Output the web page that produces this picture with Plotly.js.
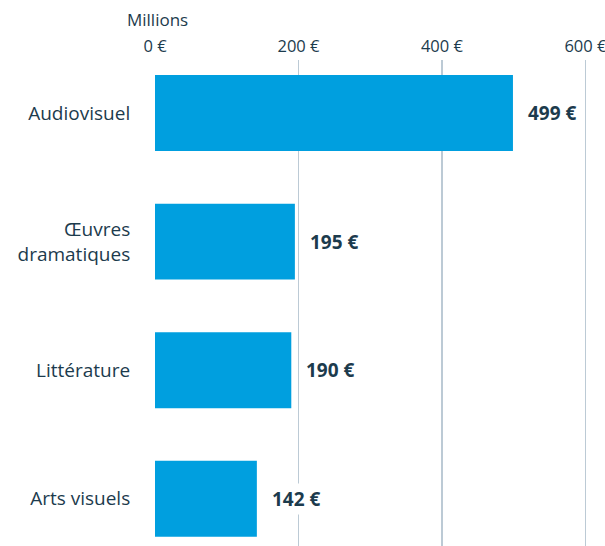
<!DOCTYPE html>
<html>
<head>
<meta charset="utf-8">
<script src="https://cdn.plot.ly/plotly-3.0.1.min.js"></script>
<style>html,body{margin:0;padding:0;background:#fff}#chart{width:605px;height:546px}</style>
</head>
<body>
<div id="chart"></div>
<script>
const categories = ["Audiovisuel", "Œuvres<br>dramatiques", "Littérature", "Arts visuels"];
const values = [499, 195, 190, 142];
const valueLabels = ["499 €", "195 €", "190 €", "142 €"];
const tickVals = [0, 200, 400, 600];
const tickText = ["0 €", "200 €", "400 €", "600 €"];
const unitLabel = "Millions";

const textColor = "#1c3b4d";
const fontFam = "'Open Sans', sans-serif";

const trace = {
  type: "bar",
  orientation: "h",
  x: values,
  y: categories,
  marker: {color: "#009fdf"},
  hoverinfo: "none"
};

const annotations = values.map((v, i) => ({
  x: v, y: categories[i], xref: "x", yref: "y",
  text: "<b>" + valueLabels[i] + "</b>",
  showarrow: false, xanchor: "left", yanchor: "middle",
  xshift: 12, bgcolor: "#ffffff", borderpad: 2,
  font: {family: fontFam, size: 19, color: textColor}
}));
annotations.push({
  x: 0, y: 1, xref: "paper", yref: "paper",
  text: unitLabel, showarrow: false, xanchor: "left", yanchor: "middle",
  xshift: -30, yshift: 41,
  font: {family: fontFam, size: 17, color: textColor}
});

const layout = {
  width: 605, height: 546,
  margin: {l: 155, r: 16, t: 60, b: 0},
  paper_bgcolor: "#ffffff", plot_bgcolor: "#ffffff",
  showlegend: false,
  bargap: 0.41,
  xaxis: {
    side: "top", range: [0, 605], tickvals: tickVals, ticktext: tickText,
    showgrid: true, gridcolor: "#bccad5", gridwidth: 1.3,
    zeroline: false, showline: false, ticks: "",
    ticklabeloverflow: "allow", ticklabelstandoff: 4,
    tickfont: {family: fontFam, size: 16.5, color: textColor},
    fixedrange: true
  },
  yaxis: {
    range: [3.367, -0.412], showgrid: false, zeroline: false, showline: false,
    ticks: "outside", ticklen: 20, tickcolor: "rgba(0,0,0,0)",
    tickfont: {family: fontFam, size: 19, color: textColor},
    fixedrange: true
  },
  annotations: annotations
};

Plotly.newPlot("chart", [trace], layout, {displayModeBar: false, staticPlot: true});
</script>
</body>
</html>
